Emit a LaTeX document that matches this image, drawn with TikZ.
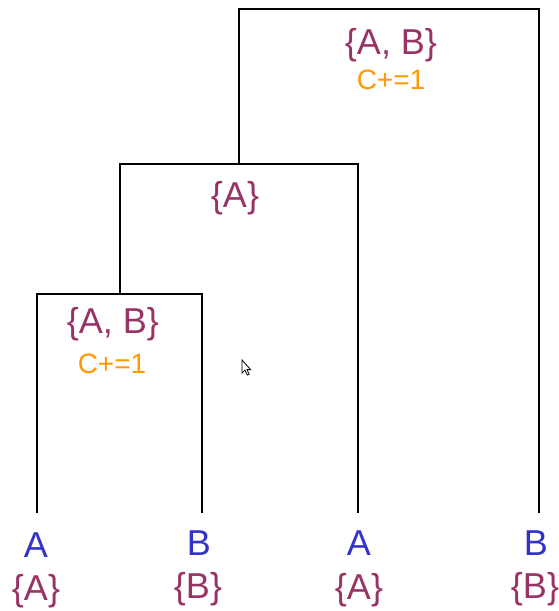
\documentclass[tikz,border=0pt]{standalone}
\usepackage{fontspec}
\setmainfont{Liberation Sans}
\definecolor{setcol}{RGB}{153,51,102}
\definecolor{leafcol}{RGB}{51,51,204}
\definecolor{countcol}{RGB}{255,153,0}
\begin{document}
\begin{tikzpicture}[x=1pt,y=-1pt,
  branch/.style={draw=black,line width=2pt,line cap=rect},
  leaf/.style={text=leafcol,font=\fontsize{36}{40}\selectfont,inner sep=0pt},
  setlabel/.style={text=setcol,font=\fontsize{36}{40}\selectfont,inner sep=0pt},
  count/.style={text=countcol,font=\fontsize{28}{32}\selectfont,inner sep=0pt}]
\useasboundingbox (0,0) rectangle (559,611);

% leaf labels
\node[leaf] (a1) at (36,545) {A};
\node[leaf] (b1) at (199,543) {B};
\node[leaf] (a2) at (359,543) {A};
\node[leaf] (b2) at (536,543) {B};
\node[setlabel] (sa1) at (36,591) {\{A\}};
\node[setlabel] (sb1) at (198,589) {\{B\}};
\node[setlabel] (sa2) at (359,590) {\{A\}};
\node[setlabel] (sb2) at (535,589) {\{B\}};

% branch end points above the leaves
\coordinate (e1) at (37,512);
\coordinate (e2) at (202,512);
\coordinate (e3) at (358,512);
\coordinate (e4) at (539,512);

% merge heights
\coordinate (m1) at (120,294);
\coordinate (m2) at (239,164);
\coordinate (m3) at (389,9);

% dendrogram brackets
\draw[branch] (e1) |- (m1) -| (e2);
\draw[branch] (m1) |- (m2) -| (e3);
\draw[branch] (m2) |- (m3) -| (e4);

% internal node labels
\node[setlabel] (s1) at (113,324) {\{A, B\}};
\node[count] (c1) at (112,364) {C+=1};
\node[setlabel] (s2) at (235,198) {\{A\}};
\node[setlabel] (s3) at (391,45) {\{A, B\}};
\node[count] (c3) at (391,80) {C+=1};

% mouse pointer
\draw[black,fill=white,line width=0.8pt,line join=miter]
  (242,360) -- (242,373) -- (245,370.2) -- (247.4,375) -- (249.2,374.2)
  -- (246.9,369.6) -- (250.6,369.6) -- cycle;
\end{tikzpicture}
\end{document}
